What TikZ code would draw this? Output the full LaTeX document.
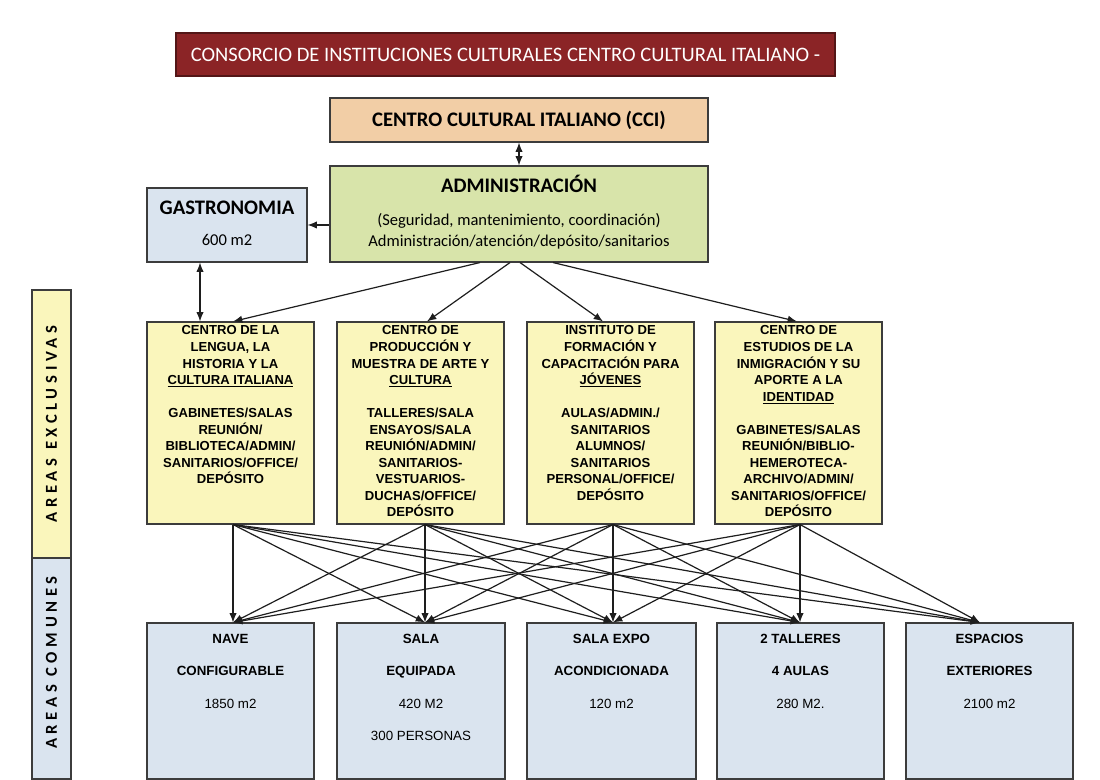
\documentclass[tikz,border=0pt]{standalone}
\usepackage{fontspec}
\setmainfont{Carlito}
\newfontfamily\arialf{Liberation Sans}
\newfontfamily\spacedf[LetterSpace=28]{Carlito}
\usetikzlibrary{arrows.meta,calc}
\definecolor{titlered}{HTML}{8B2426}
\definecolor{ccitan}{HTML}{F2CEA6}
\definecolor{admgreen}{HTML}{D8E4AA}
\definecolor{lblue}{HTML}{DAE4EF}
\definecolor{lyellow}{HTML}{FAF6BC}
\definecolor{edgegray}{HTML}{3C3C3C}
\definecolor{arrowc}{HTML}{1E1E1E}
\newcommand\topbox[3]{\parbox[c][#1][t]{#2}{\centering #3}}
\newcommand\exfont{\arialf\bfseries\fontsize{9.8}{12.4}\selectfont}
\newcommand\cofont{\arialf\fontsize{10}{24.4}\selectfont}
\begin{document}
\begin{tikzpicture}[x=0.75pt,y=-0.75pt,
  box/.style={draw=edgegray, line width=0.8pt, inner sep=0pt},
  exbox/.style={box, fill=lyellow},
  cobox/.style={box, fill=lblue},
  sidelabel/.style={rotate=90, font=\spacedf\bfseries\fontsize{12.5}{14}\selectfont},
  arr/.style={draw=arrowc, line width=0.9pt, -{Latex[length=7pt,width=5.5pt]}},
  darr/.style={draw=arrowc, line width=0.9pt, {Latex[length=7pt,width=5.5pt]}-{Latex[length=7pt,width=5.5pt]}}]
\useasboundingbox (0,0) rectangle (1100,780);
\fill[white] (0,0) rectangle (1100,780);

% title
\node[box, draw=titlered!60!black, fill=titlered, text=white, minimum width=494.25pt, minimum height=32.25pt, font=\fontsize{15.4}{18}\selectfont]
  (title) at (505.5,54.5) {CONSORCIO DE INSTITUCIONES CULTURALES CENTRO CULTURAL ITALIANO -};

% CCI
\node[box, fill=ccitan, minimum width=283.5pt, minimum height=33pt, font=\fontsize{15.5}{18}\selectfont\bfseries]
  (cci) at (519,120) {CENTRO CULTURAL ITALIANO (CCI)};

% Administracion
\node[box, fill=admgreen] (adm) at (519,214) {\topbox{72pt}{283.5pt}{%
  {\fontsize{15.5}{18}\selectfont\bfseries\rule{0pt}{20.25pt}ADMINISTRACIÓN\par}
  \vspace{9pt}
  {\fontsize{12.4}{15.75}\selectfont (Seguridad, mantenimiento, coordinación)\\
  Administración/atención/depósito/sanitarios\par}}};

% Gastronomia
\node[box, fill=lblue] (gas) at (227,225) {\topbox{55.5pt}{120pt}{%
  {\fontsize{15.5}{18}\selectfont\bfseries\rule{0pt}{20.25pt}GASTRONOMIA\par}
  \vspace{7.5pt}
  {\fontsize{12.4}{15.75}\selectfont 600 m2\par}}};

% side labels
\node[box, fill=lyellow, minimum width=29.25pt, minimum height=201pt] (sideex) at (51.5,424) {};
\node[sidelabel] (sideext) at (sideex.center) {AREAS EXCLUSIVAS};
\node[box, fill=lblue, minimum width=29.25pt, minimum height=165.75pt] (sideco) at (51.5,668.5) {};
\node[sidelabel] (sidecot) at ($(sideco.center)+(0,-6)$) {AREAS COMUNES};

% exclusive areas
\node[exbox] (e1) at (230.5,423) {\topbox{151.5pt}{125.25pt}{\exfont
  \rule{0pt}{9.75pt}CENTRO DE LA\\ LENGUA, LA\\ HISTORIA Y LA\\ \underline{CULTURA ITALIANA}\\[12.4pt]
  GABINETES/SALAS\\ REUNIÓN/\\ BIBLIOTECA/ADMIN/\\ SANITARIOS/OFFICE/\\ DEPÓSITO}};
\node[exbox] (e2) at (420.5,423) {\topbox{151.5pt}{125.25pt}{\exfont
  \rule{0pt}{9.75pt}CENTRO DE\\ PRODUCCIÓN Y\\ MUESTRA DE ARTE Y\\ \underline{CULTURA}\\[12.4pt]
  TALLERES/SALA\\ ENSAYOS/SALA\\ REUNIÓN/ADMIN/\\ SANITARIOS-\\ VESTUARIOS-\\ DUCHAS/OFFICE/\\ DEPÓSITO}};
\node[exbox] (e3) at (610.5,423) {\topbox{151.5pt}{125.25pt}{\exfont
  \rule{0pt}{9.75pt}INSTITUTO DE\\ FORMACIÓN Y\\ CAPACITACIÓN PARA\\ \underline{JÓVENES}\\[12.4pt]
  AULAS/ADMIN./\\ SANITARIOS\\ ALUMNOS/\\ SANITARIOS\\ PERSONAL/OFFICE/\\ DEPÓSITO}};
\node[exbox] (e4) at (798.5,423) {\topbox{151.5pt}{125.25pt}{\exfont
  \rule{0pt}{9.75pt}CENTRO DE\\ ESTUDIOS DE LA\\ INMIGRACIÓN Y SU\\ APORTE A LA\\ \underline{IDENTIDAD}\\[12.4pt]
  GABINETES/SALAS\\ REUNIÓN/BIBLIO-\\ HEMEROTECA-\\ ARCHIVO/ADMIN/\\ SANITARIOS/OFFICE/\\ DEPÓSITO}};

% common areas
\node[cobox] (c1) at (230.5,701) {\topbox{117pt}{125.25pt}{\cofont
  \rule{0pt}{15pt}\textbf{NAVE}\\ \textbf{CONFIGURABLE}\\ 1850 m2}};
\node[cobox] (c2) at (421,701) {\topbox{117pt}{126pt}{\cofont
  \rule{0pt}{15pt}\textbf{SALA}\\ \textbf{EQUIPADA}\\ 420 M2\\ 300 PERSONAS}};
\node[cobox] (c3) at (611.5,701) {\topbox{117pt}{126.75pt}{\cofont
  \rule{0pt}{15pt}\textbf{SALA EXPO}\\ \textbf{ACONDICIONADA}\\ 120 m2}};
\node[cobox] (c4) at (800.5,701) {\topbox{117pt}{125.25pt}{\cofont
  \rule{0pt}{15pt}\textbf{2 TALLERES}\\ \textbf{4 AULAS}\\ 280 M2.}};
\node[cobox] (c5) at (989.5,701) {\topbox{117pt}{125.25pt}{\cofont
  \rule{0pt}{15pt}\textbf{ESPACIOS}\\ \textbf{EXTERIORES}\\ 2100 m2}};

% upper connectors
\draw[darr] (cci.south) -- (adm.north);
\draw[arr] (adm.west |- gas.east) -- (gas.east);
\draw[darr] ($(gas.south)+(-27,0)$) -- ($(e1.north)+(-30.5,0)$);
\draw[arr] ($(adm.south)+(-39,0)$) -- ($(e1.north)+(2.5,0)$);
\draw[arr] ($(adm.south)+(-9,0)$) -- ($(e2.north)+(6.5,0)$);
\draw[arr] ($(adm.south)+(1,0)$) -- ($(e3.north)+(-7.5,0)$);
\draw[arr] ($(adm.south)+(34,0)$) -- ($(e4.north)+(-1.5,0)$);

% lower connectors
\coordinate (s1) at ($(e1.south)+(2.5,0)$);
\coordinate (s2) at ($(e2.south)+(4.5,0)$);
\coordinate (s3) at ($(e3.south)+(2.5,0)$);
\coordinate (s4) at ($(e4.south)+(1.5,0)$);
\coordinate (t1) at ($(c1.north)+(2.5,0)$);
\coordinate (t2) at ($(c2.north)+(4,0)$);
\coordinate (t3) at ($(c3.north)+(1.5,0)$);
\coordinate (t4) at ($(c4.north)+(-0.5,0)$);
\coordinate (t5) at ($(c5.north)+(-9.5,0)$);
\foreach \s in {s1,s2,s3,s4}{
  \foreach \t in {t1,t2,t3,t4,t5}{
    \draw[arr] (\s) -- (\t);
  }
}
\end{tikzpicture}
\end{document}
